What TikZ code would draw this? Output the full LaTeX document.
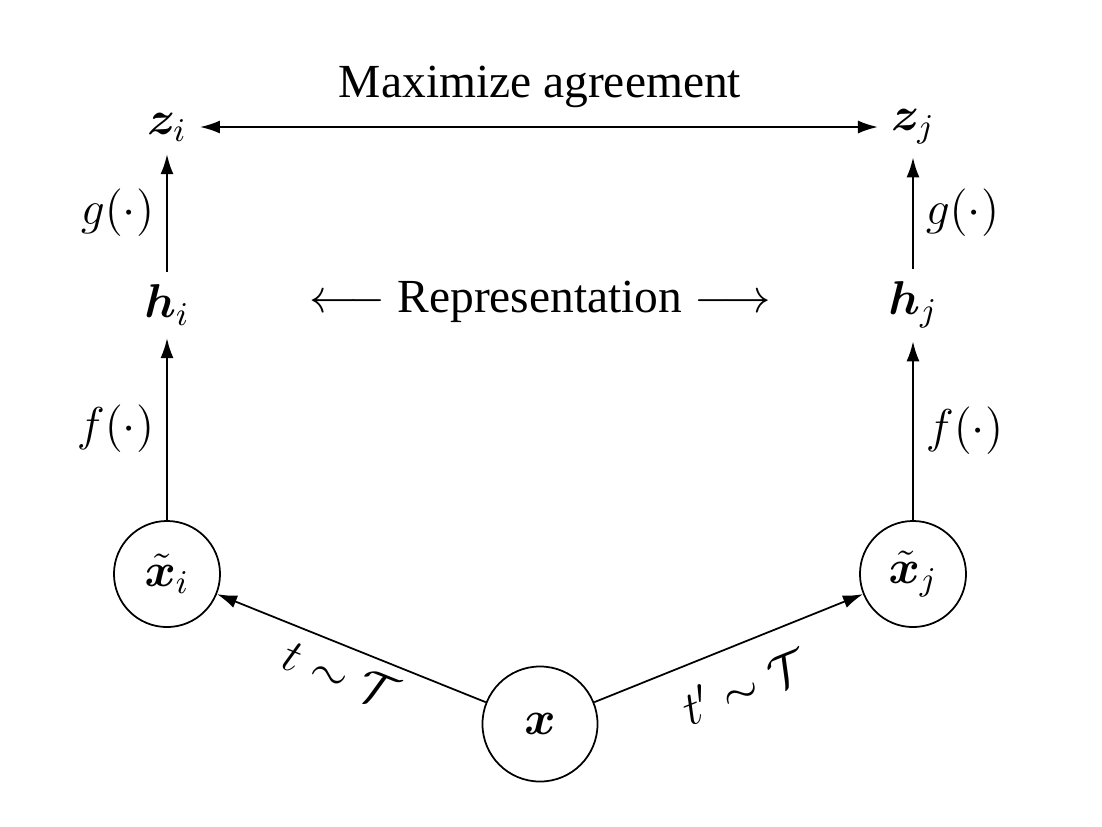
\documentclass[tikz,border=0pt]{standalone}
\usepackage{fix-cm}
\usepackage{amsmath,bm}
\usepackage{fontspec}
\setmainfont{Liberation Serif}
\usepackage{tikz}
\usetikzlibrary{arrows.meta}

\begin{document}
\begin{tikzpicture}[
  x=0.01cm, y=-0.01cm,
  font=\fontsize{13.5}{16}\selectfont,
  vec/.style={inner sep=0.35em},
  view/.style={draw, circle, line width=0.5pt, minimum size=1.06cm, inner sep=1pt},
  orig/.style={view, minimum size=1.15cm},
  arr/.style={-{Latex[length=2mm, width=1.3mm]}, line width=0.6pt},
  both/.style={{Latex[length=2mm, width=1.3mm]}-{Latex[length=2mm, width=1.3mm]}, line width=0.6pt},
  aug/.style={line width=0.5pt, -{Latex[length=2mm, width=1.3mm]}}
]
\useasboundingbox (0,0) rectangle (1102,826);

\node[orig] (x) at (540,724) {$\bm{x}$};
\node[view] (xi) at (167,574) {$\tilde{\bm{x}}_i$};
\node[view] (xj) at (913,574) {$\tilde{\bm{x}}_j$};
\node[vec] (hi) at (167,305) {$\bm{h}_i$};
\node[vec] (hj) at (913,305) {$\bm{h}_j$};
\node[vec] (zi) at (167,127) {$\bm{z}_i$};
\node[vec] (zj) at (913,127) {$\bm{z}_j$};
\node (agree) at (540,87) {Maximize agreement};
\node (repr) at (540,302) {$\longleftarrow$ Representation $\longrightarrow$};

\draw[aug] (x) -- node[sloped, below] {$t \sim \mathcal{T}$} (xi);
\draw[aug] (x) -- node[sloped, below=3pt] {$t' \sim \mathcal{T}$} (xj);
\draw[arr] (xi) -- node[left] {$f(\cdot)$} (hi);
\draw[arr] (xj) -- node[right] {$f(\cdot)$} (hj);
\draw[arr] (hi) -- node[left] {$g(\cdot)$} (zi);
\draw[arr] (hj) -- node[right] {$g(\cdot)$} (zj);
\draw[both] (zi) -- (zj);
\end{tikzpicture}
\end{document}
